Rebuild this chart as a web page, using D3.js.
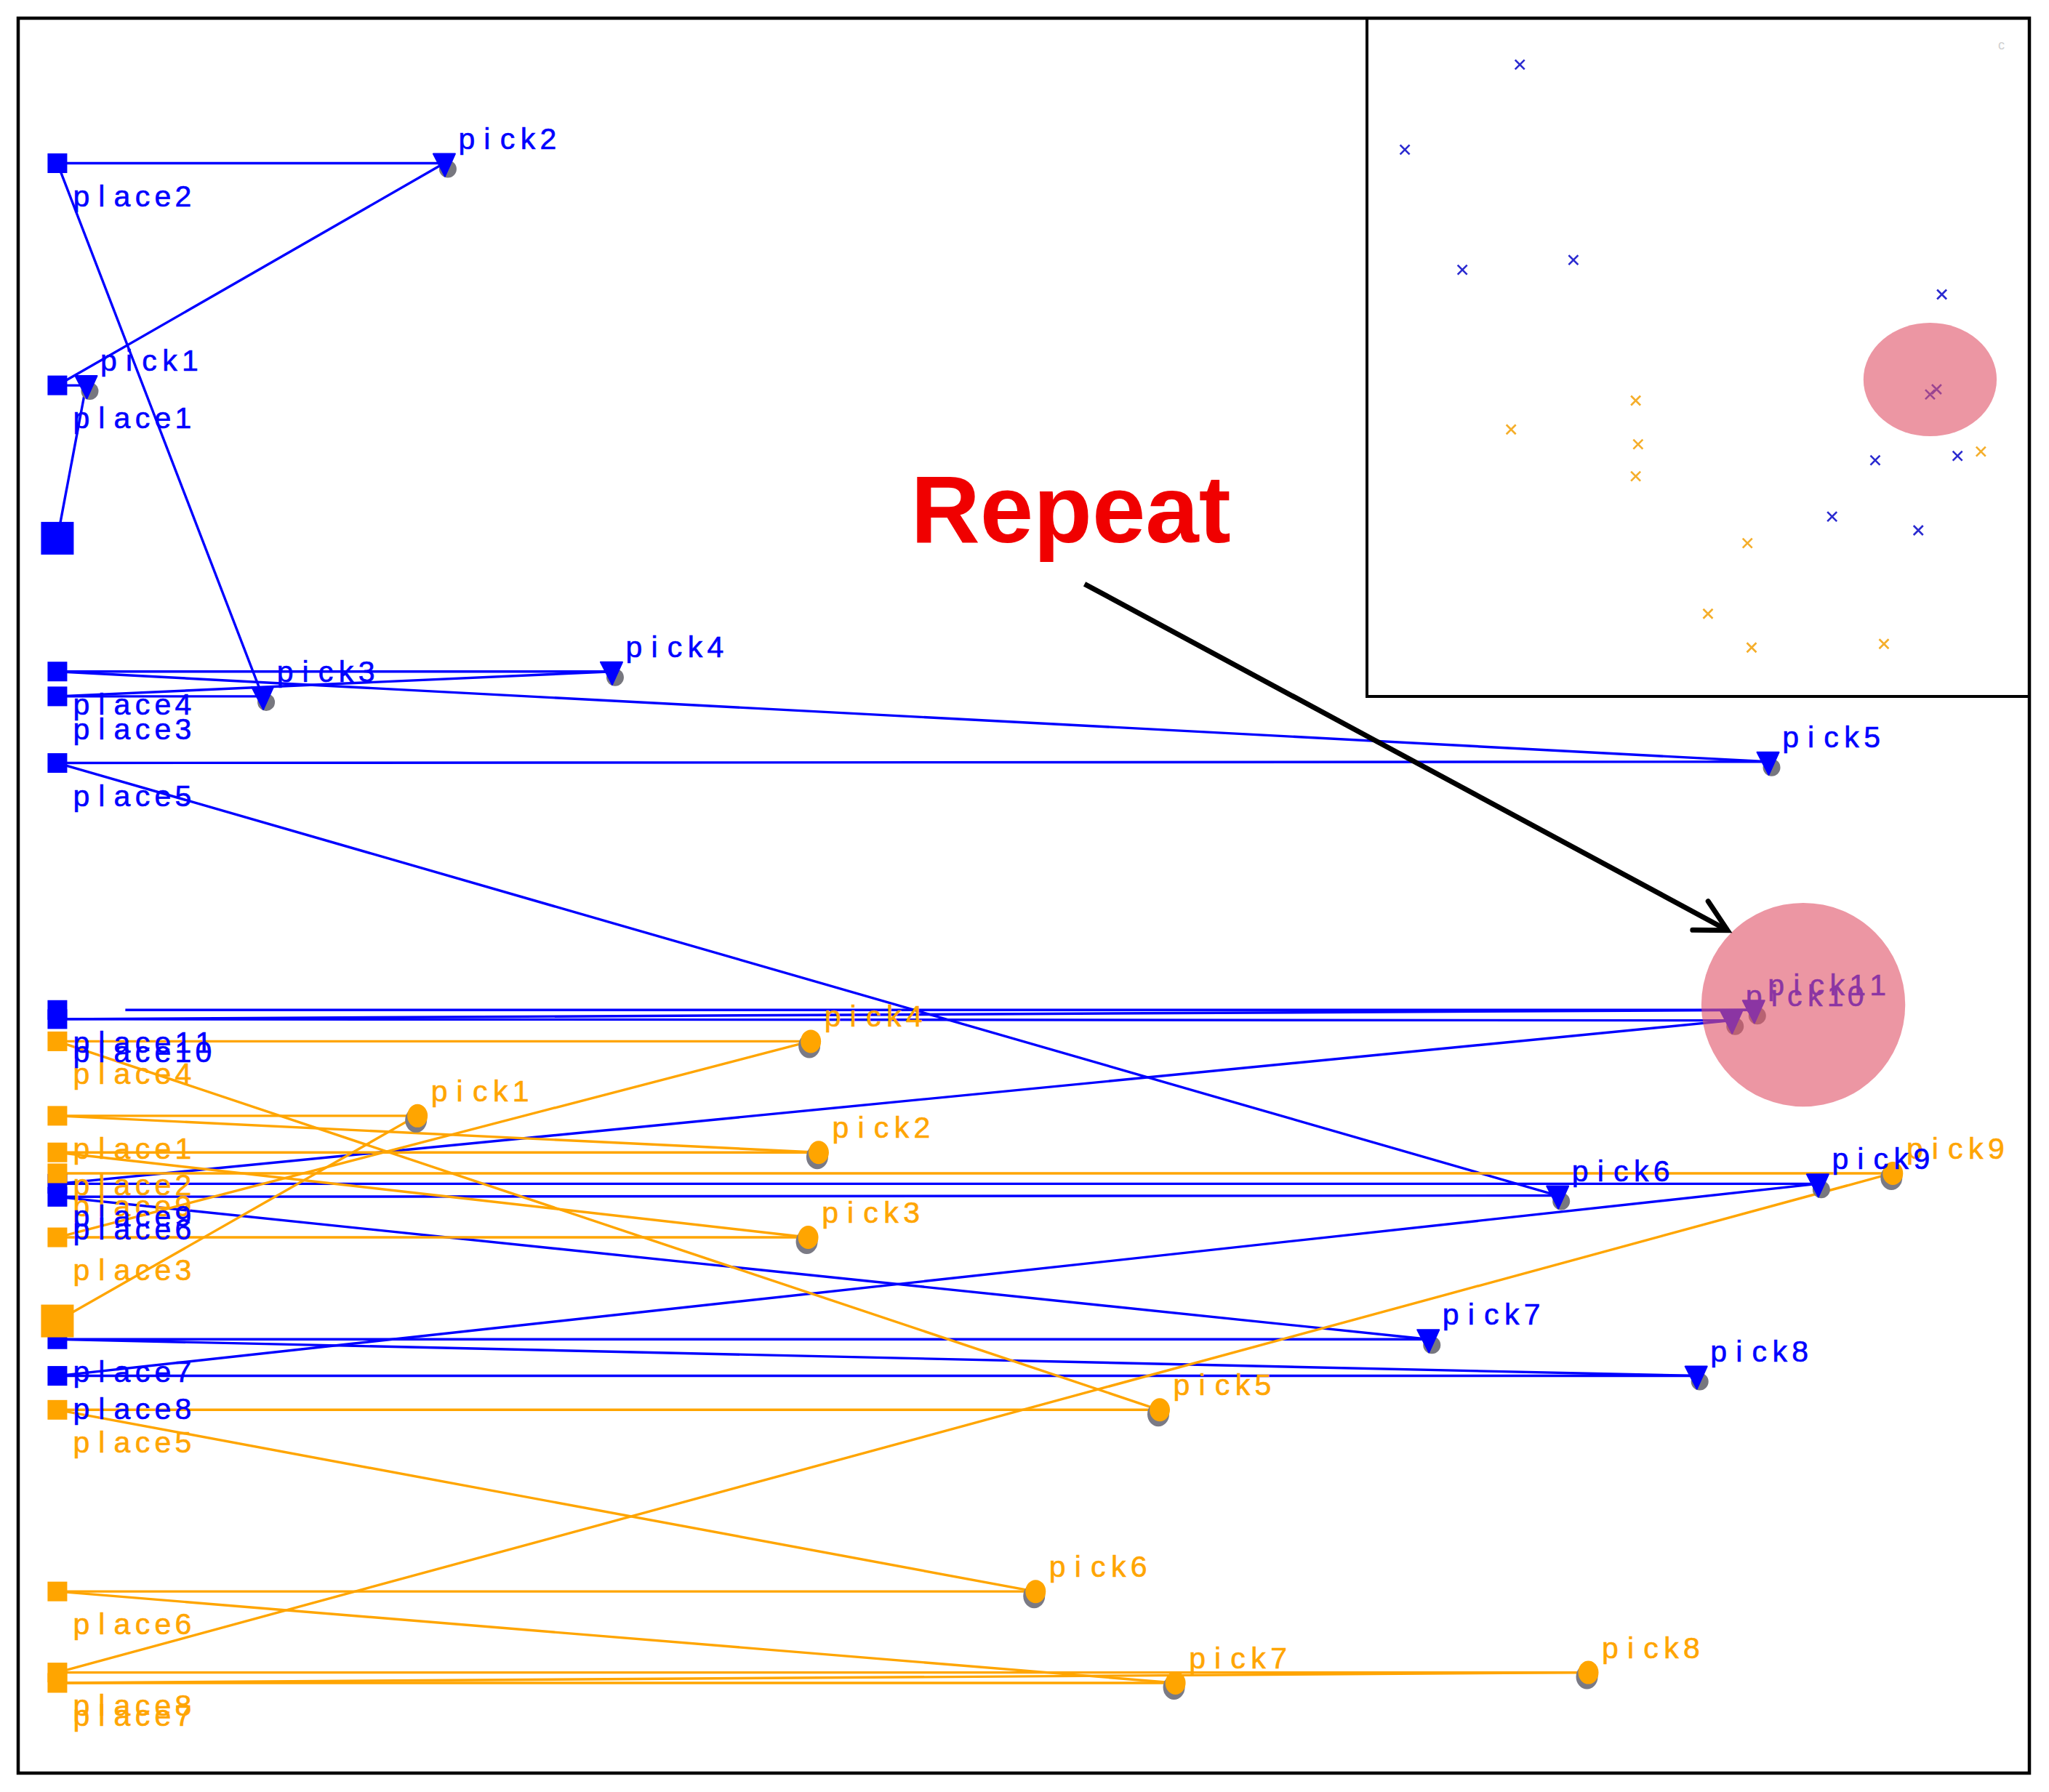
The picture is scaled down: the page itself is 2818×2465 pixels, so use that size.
<!DOCTYPE html>
<html><head><meta charset="utf-8">
<script src="https://cdn.jsdelivr.net/npm/d3@7"></script>
<style>body{margin:0;background:#fff}svg{display:block}</style>
</head><body>
<svg id="chart" width="2818" height="2465"></svg>
<script>
// ---------- data (plot units) ----------
const blueDepot = [44, 412];
const bluePickX = [66, 340, 201, 468, 1353, 1192, 1093, 1298, 1391, 1325, 1342];
const bluePickY = [295, 125, 533, 514, 583, 915, 1025, 1053, 906, 781, 773];
const bluePlaceX = [44, 44, 44, 44, 44, 44, 44, 44, 44, 44, 44];
const bluePlaceY = [295, 125, 533, 514, 584, 916, 1025, 1053, 906, 780, 773];
const blueLastLineStart = 96;   // last return line starts here

const orangeDepot = [44, 1011];
const orangePickX = [319, 626, 618, 620, 887, 792, 899, 1215, 1448];
const orangePickY = [854, 882, 947, 797, 1079, 1218, 1288, 1280, 898];
const orangePlaceX = [44, 44, 44, 44, 44, 44, 44, 44, 44];
const orangePlaceY = [854, 882, 947, 797, 1079, 1218, 1288, 1280, 898];

// inset scatter (inset units)
const insetBlueX = [117, 29, 73, 158, 440, 431, 436, 389, 452, 356, 422];
const insetBlueY = [35.5, 100.6, 192.5, 185, 211.4, 287.9, 284, 338.3, 334.9, 381.4, 391.9];
const insetOrangeX = [205.7, 110.3, 207.5, 205.7, 469.9, 291.2, 261, 294.4, 395.7];
const insetOrangeY = [292.6, 314.7, 326, 350.5, 331.6, 401.7, 455.7, 481.6, 478.8];
const insetHighlight = {cx: 431, cy: 276.5, rx: 51, ry: 43.4};

const mainHighlight = {cx: 1380, cy: 769, r: 78};
const annotationText = "Repeat";
const annotationPos = [697, 415];
const arrowFrom = [830, 447];
const arrowTo = [1322, 712];

// ---------- setup ----------
const BLUE = "#0000ff", ORANGE = "#ffa500";
const svg = d3.select("#chart");
const W = 2818, H = 2465;
svg.append("rect").attr("width", W).attr("height", H).attr("fill", "#fff");

const x = d3.scaleLinear().domain([14, 1553]).range([25, 2791]);
const y = d3.scaleLinear().domain([14, 1357]).range([25, 2439]);
const ix = d3.scaleLinear().domain([0, 507]).range([1880, 2791]);
const iy = d3.scaleLinear().domain([0, 519]).range([25, 958]);

const gLines = svg.append("g");
const gMarks = svg.append("g");
const gLabels = svg.append("g");

function buildNodes(depot, pX, pY, plX, plY) {
  const nodes = [{type: "depot", x: depot[0], y: depot[1], name: ""}];
  pX.forEach((px, i) => {
    nodes.push({type: "pick", x: px, y: pY[i], name: "pick" + (i + 1)});
    nodes.push({type: "place", x: plX[i], y: plY[i], name: "place" + (i + 1)});
  });
  return nodes;
}

function drawRoute(nodes, color, lastStart) {
  for (let i = 0; i < nodes.length - 1; i++) {
    const a = nodes[i], b = nodes[i + 1];
    let bx = b.x;
    if (i === nodes.length - 2 && lastStart !== undefined) bx = lastStart;
    gLines.append("line")
      .attr("x1", x(a.x)).attr("y1", y(a.y))
      .attr("x2", x(bx)).attr("y2", y(b.y))
      .attr("stroke", color).attr("stroke-width", 3.4);
  }
  nodes.forEach(n => {
    const cx = x(n.x), cy = y(n.y);
    if (n.type === "depot") {
      gMarks.append("rect").attr("x", cx - 22.5).attr("y", cy - 22.5)
        .attr("width", 45).attr("height", 45).attr("fill", color);
    } else if (n.type === "place") {
      gMarks.append("rect").attr("x", cx - 13.5).attr("y", cy - 13.5)
        .attr("width", 27).attr("height", 27).attr("fill", color);
    } else {
      if (color === BLUE) {
        gMarks.append("circle").attr("cx", cx + 5).attr("cy", cy + 8).attr("r", 12)
          .attr("fill", "#77777f");
        gMarks.append("path")
          .attr("d", `M${cx - 15},${cy - 13}L${cx + 15},${cy - 13}L${cx + 1},${cy + 18}Z`)
          .attr("fill", color).attr("stroke", color).attr("stroke-width", 2).attr("stroke-linejoin", "round");
      } else {
        gMarks.append("ellipse").attr("cx", cx - 1).attr("cy", cy + 6).attr("rx", 15).attr("ry", 17)
          .attr("fill", "#7a7a85");
        gMarks.append("ellipse").attr("cx", cx + 1).attr("cy", cy).attr("rx", 14).attr("ry", 16)
          .attr("fill", color);
      }
    }
  });
}

function monoLabel(px, py, str, color) {
  const t = gLabels.append("text")
    .attr("font-family", "'Liberation Sans', Arial, sans-serif")
    .attr("font-size", 41).attr("fill", color).attr("text-anchor", "middle")
    .attr("stroke", color).attr("stroke-width", 0.6);
  str.split("").forEach((ch, i) => {
    t.append("tspan").attr("x", px + 11 + i * 28).attr("y", py).text(ch);
  });
}

function drawLabels(nodes, color) {
  nodes.forEach(n => {
    if (n.type === "pick") monoLabel(x(n.x) + 20, y(n.y) - 20, n.name, color);
    if (n.type === "place") monoLabel(x(n.x) + 22, y(n.y) + 59, n.name, color);
  });
}

const blueNodes = buildNodes(blueDepot, bluePickX, bluePickY, bluePlaceX, bluePlaceY);
const orangeNodes = buildNodes(orangeDepot, orangePickX, orangePickY, orangePlaceX, orangePlaceY);

drawRoute(blueNodes, BLUE, blueLastLineStart);
drawRoute(orangeNodes, ORANGE);
drawLabels(orangeNodes, ORANGE);
drawLabels(blueNodes, BLUE);

// ---------- highlight circle (on top) ----------
svg.append("ellipse")
  .attr("cx", x(mainHighlight.cx)).attr("cy", y(mainHighlight.cy))
  .attr("rx", x(mainHighlight.cx + mainHighlight.r) - x(mainHighlight.cx))
  .attr("ry", y(mainHighlight.cy + mainHighlight.r) - y(mainHighlight.cy))
  .attr("fill", "#e0566a").attr("fill-opacity", 0.62);

// ---------- annotation ----------
svg.append("text")
  .attr("x", x(annotationPos[0])).attr("y", y(annotationPos[1]))
  .attr("font-family", "'Liberation Sans', Arial, sans-serif")
  .attr("font-weight", "bold").attr("font-size", 132).attr("fill", "#f00000")
  .text(annotationText);

(function arrow() {
  const x1 = x(arrowFrom[0]), y1 = y(arrowFrom[1]);
  const x2 = x(arrowTo[0]), y2 = y(arrowTo[1]);
  const ang = Math.atan2(y2 - y1, x2 - x1);
  const L = 48, spread = 28 * Math.PI / 180;
  const b1 = [x2 - L * Math.cos(ang - spread), y2 - L * Math.sin(ang - spread)];
  const b2 = [x2 - L * Math.cos(ang + spread), y2 - L * Math.sin(ang + spread)];
  svg.append("line").attr("x1", x1).attr("y1", y1).attr("x2", x2).attr("y2", y2)
    .attr("stroke", "#000").attr("stroke-width", 7);
  svg.append("path")
    .attr("d", `M${b1[0]},${b1[1]}L${x2},${y2}L${b2[0]},${b2[1]}`)
    .attr("fill", "none").attr("stroke", "#000").attr("stroke-width", 7)
    .attr("stroke-linejoin", "miter").attr("stroke-linecap", "round");
})();

// ---------- inset ----------
const gInset = svg.append("g");
gInset.append("rect").attr("x", ix(0)).attr("y", iy(0))
  .attr("width", ix(507) - ix(0)).attr("height", iy(519) - iy(0))
  .attr("fill", "#fff").attr("stroke", "#000").attr("stroke-width", 4);
function xMark(cx, cy, color) {
  const s = 6.5;
  gInset.append("path")
    .attr("d", `M${cx - s},${cy - s}L${cx + s},${cy + s}M${cx - s},${cy + s}L${cx + s},${cy - s}`)
    .attr("stroke", color).attr("stroke-width", 2.6).attr("fill", "none");
}
insetBlueX.forEach((v, i) => xMark(ix(v), iy(insetBlueY[i]), "#2a2ad0"));
insetOrangeX.forEach((v, i) => xMark(ix(v), iy(insetOrangeY[i]), "#f5ae2a"));
gInset.append("ellipse")
  .attr("cx", ix(insetHighlight.cx)).attr("cy", iy(insetHighlight.cy))
  .attr("rx", ix(insetHighlight.cx + insetHighlight.rx) - ix(insetHighlight.cx))
  .attr("ry", iy(insetHighlight.cy + insetHighlight.ry) - iy(insetHighlight.cy))
  .attr("fill", "#e0566a").attr("fill-opacity", 0.62);
gInset.append("text").attr("x", ix(483)).attr("y", iy(24))
  .attr("font-family", "'Liberation Sans', Arial, sans-serif").attr("font-size", 18)
  .attr("fill", "#d0d0d0").text("c");

// ---------- outer frame ----------
svg.append("rect").attr("x", x(14)).attr("y", y(14))
  .attr("width", x(1553) - x(14)).attr("height", y(1357) - y(14))
  .attr("fill", "none").attr("stroke", "#000").attr("stroke-width", 4.5);
</script>
</body></html>
